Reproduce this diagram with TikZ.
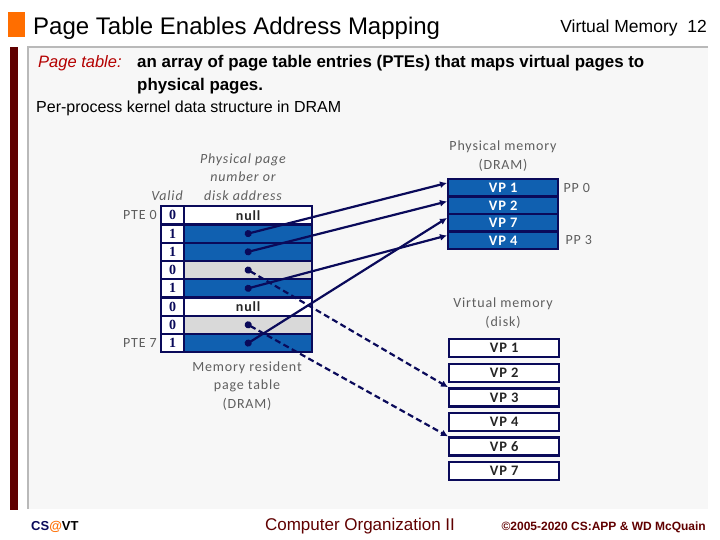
\documentclass[tikz,border=0pt]{standalone}
\usepackage{fontspec}
\setmainfont{Liberation Sans}
\newfontfamily\calibri[LetterSpace=6]{Carlito}
\newfontfamily\cambria{Liberation Serif}
\usetikzlibrary{arrows.meta,calc,positioning}
\definecolor{vmNavy}{RGB}{10,10,90}
\definecolor{vmBlue}{RGB}{16,96,176}
\definecolor{vmGray}{RGB}{217,217,217}
\definecolor{vmPaper}{RGB}{247,247,247}
\definecolor{vmFrame}{RGB}{185,185,185}
\definecolor{vmMaroon}{RGB}{96,0,0}
\definecolor{vmRed}{RGB}{180,0,0}
\definecolor{vmOrange}{RGB}{255,110,0}
\definecolor{vmText}{RGB}{95,95,95}

\begin{document}
\begin{tikzpicture}[x=1pt,y=-1pt,
  cell/.style={draw=vmNavy,line width=2.4pt,inner sep=0pt,minimum height=18.25pt,anchor=north west},
  validcell/.style={cell,fill=white,minimum width=23pt,font=\fontsize{14}{14}\selectfont\cambria\bfseries,text=vmNavy},
  ppncell/.style={cell,minimum width=128pt,font=\fontsize{14}{14}\selectfont\calibri\bfseries,text=black!85},
  dramcell/.style={draw=vmNavy,line width=2.4pt,fill=vmBlue,inner sep=0pt,minimum width=110pt,minimum height=17.5pt,anchor=north west,font=\fontsize{14.5}{14}\selectfont\calibri\bfseries,text=white},
  diskcell/.style={draw=vmNavy,line width=2.4pt,fill=white,inner sep=0pt,minimum width=110pt,minimum height=18pt,anchor=north west,font=\fontsize{14.5}{14}\selectfont\calibri\bfseries,text=black!85},
  caption/.style={font=\fontsize{14}{18.5}\selectfont\calibri,text=vmText,align=center},
  ptr/.style={draw=vmNavy,line width=2.2pt,{Circle[length=7pt]}-{Latex[length=7pt,width=7pt]},shorten <=-3.5pt},
  swap/.style={ptr,dash pattern=on 6pt off 3.5pt},
  deftext/.style={anchor=base west,inner sep=0pt,font=\fontsize{16.9}{23}\selectfont\bfseries}]
  \useasboundingbox (0,0) rectangle (720,540);

  % slide frame
  \fill[vmOrange] (8,12) rectangle (25,37);
  \fill[vmPaper] (28,47) rectangle (708,509);
  \draw[vmFrame,line width=2pt] (708,47) -- (28,47) -- (28,509);
  \fill[vmMaroon] (10,47) rectangle (18,510);
  \node[anchor=base west,inner sep=0pt,font=\fontsize{24}{28}\selectfont] (title) at (33,35) {Page Table Enables Address Mapping};
  \node[anchor=base east,inner sep=0pt,font=\fontsize{17.5}{20}\selectfont] (topic) at (707,33) {Virtual Memory\ \ 12};

  % definition
  \node[anchor=base west,inner sep=0pt,font=\fontsize{16.5}{23}\selectfont\itshape,text=vmRed] (defterm) at (38,68) {Page table:};
  \node[deftext] (defline1) at (137,68) {an array of page table entries (PTEs) that maps virtual pages to};
  \node[deftext] (defline2) at (137,91) {physical pages.};
  \node[anchor=base west,inner sep=0pt,font=\fontsize{16}{18}\selectfont] (kernel) at (36,113) {Per-process kernel data structure in DRAM};

  % page table
  \foreach \v/\c/\t [count=\i from 0] in {0/white/null,1/vmBlue/,1/vmBlue/,0/vmGray/,1/vmBlue/,0/white/null,0/vmGray/,1/vmBlue/}{
    \node[validcell] (v\i) at (160,{205+18.25*\i}) {\v};
    \node[ppncell,fill=\c] (p\i) at (183,{205+18.25*\i}) {\t};
  }
  \node[caption,anchor=base] (valid) at (167,201) {\itshape Valid};
  \node[caption] (ppnhead) at (243,177) {\itshape Physical page\\\itshape number or\\\itshape disk address};
  \node[caption,anchor=base east,inner sep=0pt] (pte0) at (157,219) {PTE 0};
  \node[caption,anchor=base east,inner sep=0pt] (pte7) at (157,347) {PTE 7};
  \node[caption] (ptcap) at (247,386) {Memory resident\\page table\\(DRAM)};

  % physical memory
  \foreach \n [count=\j from 0] in {1,2,7,4}{
    \node[dramcell] (m\n) at (447,{178+17.5*\j}) {VP \n};
  }
  \node[caption] (dramcap) at (503,156) {Physical memory\\(DRAM)};
  \node[caption,anchor=west] (pp0) at (560,188) {PP 0};
  \node[caption,anchor=west] (pp3) at (562,240) {PP 3};

  % virtual memory
  \foreach \n [count=\j from 0] in {1,2,3,4,6,7}{
    \node[diskcell] (k\n) at (448,{338+24.6*\j}) {VP \n};
  }
  \node[caption] (diskcap) at (503,313) {Virtual memory\\(disk)};

  % mappings
  \draw[swap] (p3.center) -- (k3.north west);
  \draw[swap] (p6.center) -- (k6.north west);
  \draw[ptr] (p1.center) -- ([yshift=5pt]m1.west);
  \draw[ptr] (p2.center) -- ([yshift=4pt]m2.west);
  \draw[ptr] (p4.center) -- ([yshift=5pt]m4.west);
  \draw[ptr] (p7.center) -- ([yshift=5pt]m7.west);

  % footer
  \node[anchor=base west,inner sep=0pt,font=\fontsize{13}{15}\selectfont\bfseries] (campus) at (31,530) {\textcolor{vmNavy}{CS}\textcolor{vmOrange}{@}VT};
  \node[anchor=base,inner sep=0pt,font=\fontsize{17}{18}\selectfont,text=vmMaroon] (course) at (360,530) {Computer Organization II};
  \node[anchor=base east,inner sep=0pt,font=\fontsize{12}{14}\selectfont\bfseries,text=vmMaroon] (copy) at (706,530) {\textcopyright2005-2020 CS:APP \& WD McQuain};
\end{tikzpicture}
\end{document}
